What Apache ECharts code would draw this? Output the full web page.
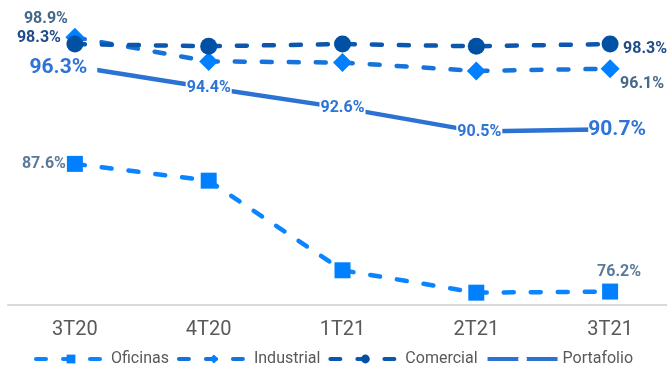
<!DOCTYPE html>
<html>
<head>
<meta charset="utf-8">
<script src="https://cdn.jsdelivr.net/npm/echarts@6/dist/echarts.min.js"></script>
<style>
html,body{margin:0;padding:0;background:#fff;}
#c{width:667px;height:366px;}
</style>
</head>
<body>
<div id="c"></div>
<script>
const categories = ['3T20', '4T20', '1T21', '2T21', '3T21'];
const seriesNames = ['Oficinas', 'Industrial', 'Comercial', 'Portafolio'];
const oficinas = [87.6, 86.1, 78.1, 76.1, 76.2];
const industrial = [98.9, 96.75, 96.65, 95.9, 96.1];
const comercial = [98.3, 98.1, 98.3, 98.1, 98.3];
const portafolio = [96.3, 94.4, 92.6, 90.5, 90.7];

const FONT = 'Roboto';
const fmt = p => p.value.toFixed(1) + '%';

function build(values, labelMap, baseLabel) {
  return values.map((v, i) => {
    const lab = labelMap[i];
    if (!lab) return { value: v, label: { show: false } };
    return { value: v, label: Object.assign({ show: true, position: 'inside', formatter: fmt }, baseLabel, lab) };
  });
}

const lblBase = c => ({ color: c, fontFamily: FONT, fontWeight: 'bold', fontSize: 16 });

const legendData = seriesNames.map(n => n === 'Portafolio'
  ? { name: n, itemStyle: { color: '#ffffff' } }
  : { name: n });

const chart = echarts.init(document.getElementById('c'), null, { renderer: 'canvas' });
chart.setOption({
  animation: false,
  backgroundColor: '#ffffff',
  grid: { left: 8, right: -10, top: 25, bottom: 61, outerBoundsMode: 'none', containLabel: false },
  legend: {
    top: 351,
    left: 'center',
    itemWidth: 70,
    itemHeight: 11,
    itemGap: 8,
    padding: 0,
    data: legendData,
    lineStyle: { width: 4 },
    textStyle: { color: '#595959', fontSize: 16, fontFamily: FONT }
  },
  xAxis: {
    type: 'category',
    data: categories,
    boundaryGap: true,
    axisTick: { show: false },
    axisLine: { lineStyle: { color: '#d9d9d9', width: 2 } },
    axisLabel: { color: '#595959', fontSize: 20, fontFamily: FONT, margin: 15 }
  },
  yAxis: {
    type: 'value',
    min: 75,
    max: 100,
    show: false,
    splitLine: { show: false }
  },
  series: [
    {
      name: 'Oficinas',
      type: 'line',
      symbol: 'rect',
      symbolSize: 16,
      itemStyle: { color: '#0080ff' },
      lineStyle: { color: '#0a84ff', width: 4.5, type: [10, 17], cap: 'round' },
      data: build(oficinas, {
        0: { offset: [-31, 0] },
        4: { offset: [9, -20] }
      }, lblBase('#5b7a9a'))
    },
    {
      name: 'Industrial',
      type: 'line',
      symbol: 'diamond',
      symbolSize: 19,
      itemStyle: { color: '#0080ff' },
      lineStyle: { color: '#1673dc', width: 4.5, type: [10, 17], cap: 'round' },
      data: build(industrial, {
        0: { offset: [-29, -18] },
        4: { offset: [32, 15] }
      }, lblBase('#45698b'))
    },
    {
      name: 'Comercial',
      type: 'line',
      symbol: 'circle',
      symbolSize: 17,
      itemStyle: { color: '#0050a4' },
      lineStyle: { color: '#0a57ad', width: 4.5, type: [10, 17], cap: 'round' },
      data: build(comercial, {
        0: { offset: [-36, -6] },
        4: { offset: [35, 5] }
      }, lblBase('#1f4d8a'))
    },
    {
      name: 'Portafolio',
      type: 'line',
      symbol: 'circle',
      symbolSize: 2,
      itemStyle: { color: '#2b72d3' },
      lineStyle: { color: '#2b72d3', width: 4.5 },
      data: build(portafolio, {
        0: { offset: [-11.5, 1], fontSize: 21, backgroundColor: '#ffffff', padding: [0, 10, 0, 0] },
        1: { backgroundColor: '#ffffff', padding: [0, 1] },
        2: { backgroundColor: '#ffffff', padding: [0, 1] },
        3: { offset: [3, 1], backgroundColor: '#ffffff', padding: [0, 1] },
        4: { offset: [7, 1], fontSize: 21, backgroundColor: '#ffffff', padding: [0, 0] }
      }, lblBase('#2d74d6'))
    }
  ]
});
</script>
</body>
</html>
